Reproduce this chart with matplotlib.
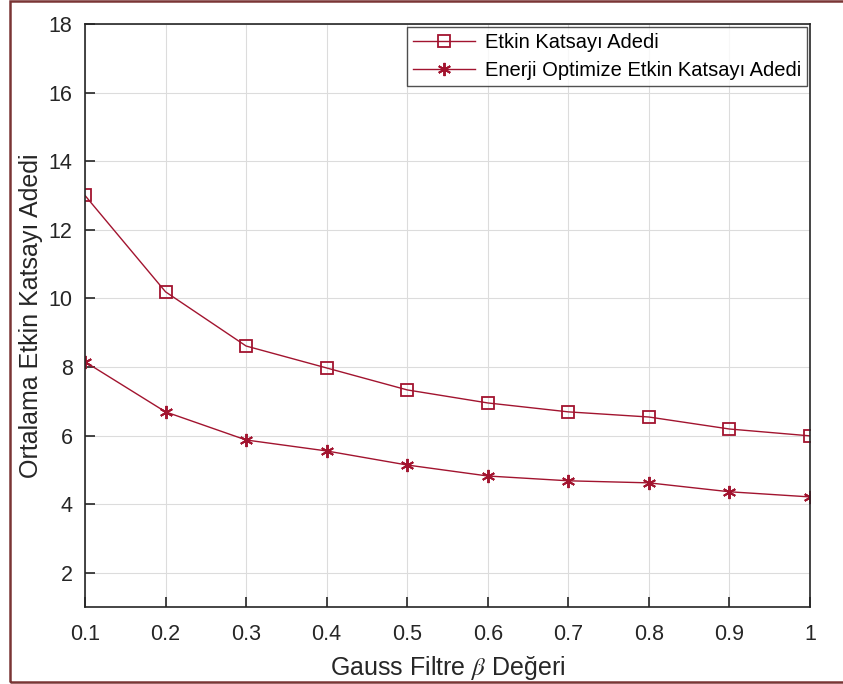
import numpy as np
import matplotlib.pyplot as plt
from matplotlib.patches import Rectangle

plt.rcParams['font.family'] = ['Liberation Sans', 'DejaVu Sans']
plt.rcParams['mathtext.fontset'] = 'stix'

# 数据
beta = [0.1, 0.2, 0.3, 0.4, 0.5, 0.6, 0.7, 0.8, 0.9, 1.0]
etkin = [13.0, 10.19, 8.61, 7.97, 7.33, 6.95, 6.69, 6.54, 6.19, 5.99]
enerji = [8.15, 6.69, 5.87, 5.55, 5.14, 4.82, 4.68, 4.62, 4.36, 4.21]
xticks = [0.1, 0.2, 0.3, 0.4, 0.5, 0.6, 0.7, 0.8, 0.9, 1.0]
xtick_labels = ['0.1', '0.2', '0.3', '0.4', '0.5', '0.6', '0.7', '0.8', '0.9', '1']
yticks = [2, 4, 6, 8, 10, 12, 14, 16, 18]

color = '#A2142F'

fig = plt.figure(figsize=(8.43, 6.84), dpi=100)
# 像素位置 -> 图坐标
W, H = 843, 684
ax = fig.add_axes([85 / W, 1 - 607 / H, (810 - 85) / W, (607 - 24) / H])

ax.plot(beta, etkin, color=color, lw=1, marker='s', markersize=8.5,
        markerfacecolor='none', markeredgecolor=color, markeredgewidth=1.3,
        label='Etkin Katsayı Adedi')
ax.plot(beta, enerji, color=color, lw=1, marker=(6, 2, 0), markersize=9.5,
        markeredgecolor=color, markeredgewidth=1.4,
        label='Enerji Optimize Etkin Katsayı Adedi')

ax.set_xlim(0.1, 1.0)
ax.set_ylim(1, 18)
ax.set_xticks(xticks)
ax.set_xticklabels(xtick_labels)
ax.set_yticks(yticks)
ax.tick_params(direction='in', length=7, width=1.2, labelsize=15.5,
               colors='#262626', top=False, right=False)
ax.tick_params(axis='x', pad=12)
ax.tick_params(axis='y', pad=9)
ax.grid(True, color='#dcdcdc', lw=0.8)
for s in ax.spines.values():
    s.set_color('#262626')
    s.set_linewidth(1.2)

ax.set_xlabel(r'Gauss Filtre $\beta$ Değeri', fontsize=18, color='#262626', labelpad=7)
ax.set_ylabel('Ortalama Etkin Katsayı Adedi', fontsize=18, color='#262626', labelpad=4)

leg = ax.legend(loc='upper right', fontsize=14.5, frameon=True, fancybox=False,
                borderaxespad=0.15, handlelength=3.05, handletextpad=0.5,
                labelspacing=0.45, borderpad=0.3)
leg.get_frame().set_edgecolor('#262626')
leg.get_frame().set_linewidth(1.0)

# 外框
fig.patches.append(Rectangle((10 / W, 1 - 682 / H), (W + 5 - 10) / W, (682 - 1) / H,
                             transform=fig.transFigure, fill=False,
                             edgecolor='#7a3535', lw=1.8))

fig.savefig('out.png', dpi=100)
